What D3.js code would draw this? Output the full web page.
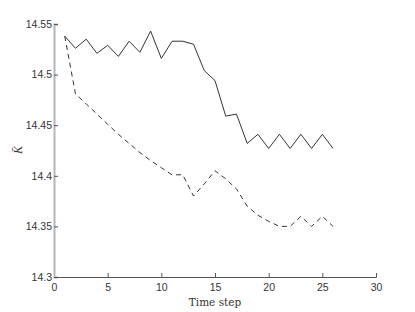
<!DOCTYPE html>
<html>
<head>
<meta charset="utf-8">
<script src="https://cdn.jsdelivr.net/npm/d3@7"></script>
<style>
  html, body { margin: 0; padding: 0; background: #fff; }
  svg { display: block; }
</style>
</head>
<body>
<svg id="chart" width="415" height="312"></svg>
<script>
// time steps 1..26
const steps = d3.range(1, 27);

const solidValues = [
    14.538, 14.526, 14.535, 14.521, 14.529, 14.518, 14.533, 14.522, 14.543, 14.516,
    14.533, 14.533, 14.530, 14.504, 14.494, 14.459, 14.461, 14.432, 14.441, 14.427,
    14.441, 14.427, 14.441, 14.427, 14.441, 14.427,
];

const dashedValues = [
    14.538, 14.481, 14.471, 14.461, 14.451, 14.441, 14.432, 14.423, 14.415, 14.408,
    14.401, 14.401, 14.380, 14.392, 14.405, 14.397, 14.387, 14.370, 14.361, 14.355,
    14.350, 14.350, 14.360, 14.350, 14.360, 14.350,
];

const xTicks = [0, 5, 10, 15, 20, 25, 30];
const yTicks = [14.3, 14.35, 14.4, 14.45, 14.5, 14.55];

const svg = d3.select("#chart");
const margin = { top: 24, right: 39, bottom: 35, left: 54 };
const width = 415 - margin.left - margin.right;
const height = 312 - margin.top - margin.bottom;
const g = svg.append("g").attr("transform", `translate(${margin.left},${margin.top})`);

const x = d3.scaleLinear().domain([0, 30]).range([0, width]);
const y = d3.scaleLinear().domain([14.3, 14.55]).range([height, 0]);

const tickFont = "Liberation Sans, Arial, sans-serif";

// bottom axis
const xAxis = g.append("g")
    .attr("transform", `translate(0,${height})`)
    .call(d3.axisBottom(x).tickValues(xTicks).tickSize(-4).tickPadding(7).tickFormat(d3.format("d")));
xAxis.select(".domain").attr("stroke", "#555").attr("stroke-width", 1);
xAxis.selectAll(".tick line").attr("stroke", "#555");
xAxis.selectAll("text").attr("fill", "#333").attr("font-size", "10.5px").attr("font-family", tickFont);

// left axis
const yAxis = g.append("g")
    .call(d3.axisLeft(y).tickValues(yTicks).tickSize(-4).tickPadding(2).tickFormat(d3.format("")));
yAxis.select(".domain").attr("stroke", "#b5b5b5").attr("stroke-width", 2);
yAxis.selectAll(".tick line").attr("stroke", "#555");
yAxis.selectAll("text").attr("fill", "#333").attr("font-size", "10.5px").attr("font-family", tickFont);

const line = d3.line()
    .x((d, i) => x(steps[i]))
    .y((d) => y(d));

g.append("path")
    .datum(solidValues)
    .attr("fill", "none")
    .attr("stroke", "#333")
    .attr("stroke-width", 1)
    .attr("d", line);

g.append("path")
    .datum(dashedValues)
    .attr("fill", "none")
    .attr("stroke", "#333")
    .attr("stroke-width", 1)
    .attr("stroke-dasharray", "5,4")
    .attr("d", line);

// axis labels
svg.append("text")
    .attr("x", margin.left + x(15))
    .attr("y", 306)
    .attr("text-anchor", "middle")
    .attr("font-family", "DejaVu Serif, Liberation Serif, serif")
    .attr("font-size", "10.5px")
    .attr("fill", "#333")
    .text("Time step");

svg.append("text")
    .attr("transform", "translate(22,150) rotate(-90)")
    .attr("text-anchor", "middle")
    .attr("font-family", "Liberation Serif, serif")
    .attr("font-style", "italic")
    .attr("font-size", "12px")
    .attr("fill", "#333")
    .text("K\u0304");
</script>
</body>
</html>
